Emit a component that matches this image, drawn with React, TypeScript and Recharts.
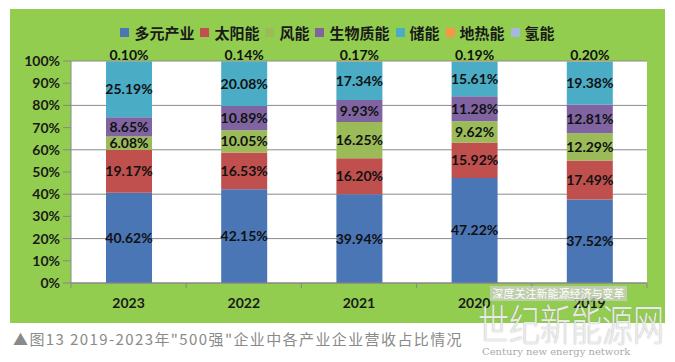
import { BarChart, Bar, XAxis, YAxis, CartesianGrid, LabelList } from 'recharts';

const years = ['2023', '2022', '2021', '2020', '2019'];
const diversified = [40.62, 42.15, 39.94, 47.22, 37.52];
const solar = [19.17, 16.53, 16.2, 15.92, 17.49];
const wind = [6.08, 10.05, 16.25, 9.62, 12.29];
const biomass = [8.65, 10.89, 9.93, 11.28, 12.81];
const storage = [25.19, 20.08, 17.34, 15.61, 19.38];
const geothermal = [0.1, 0.14, 0.17, 0.19, 0.2];
const hydrogen = [0, 0, 0, 0, 0];
const yTicks = [0, 0.1, 0.2, 0.3, 0.4, 0.5, 0.6, 0.7, 0.8, 0.9, 1];

const series = [
  { key: 'diversified', name: '多元产业', color: '#4A76B6', values: diversified },
  { key: 'solar', name: '太阳能', color: '#C0504D', values: solar },
  { key: 'wind', name: '风能', color: '#9BBB59', values: wind },
  { key: 'biomass', name: '生物质能', color: '#8064A2', values: biomass },
  { key: 'storage', name: '储能', color: '#4BACC6', values: storage },
  { key: 'geothermal', name: '地热能', color: '#F79646', values: geothermal },
  { key: 'hydrogen', name: '氢能', color: '#A5B8DD', values: hydrogen },
];

const data = years.map((year, i) => {
  const row: Record<string, string | number> = { year };
  series.forEach((s) => {
    row[s.key] = s.values[i];
  });
  return row;
});

const W = 655;
const H = 314;
const margin = { top: 52, right: 18, bottom: 10, left: 0 };
const yAxisW = 61;
const halfBand = (W - yAxisW - margin.right) / years.length / 2;

const numFont = 'Lato, "DejaVu Sans", sans-serif';
const cjkFont = '"Noto Sans CJK SC", sans-serif';

const pct = (v: any) => (v ? `${Number(v).toFixed(2)}%` : '');

function YearTick(props: any) {
  const { x, y, payload, index } = props;
  return (
    <g>
      <line x1={x - halfBand} x2={x - halfBand} y1={y} y2={y + 5} stroke="#888" />
      {index === years.length - 1 && (
        <line x1={x + halfBand} x2={x + halfBand} y1={y} y2={y + 5} stroke="#888" />
      )}
      <text
        x={x}
        y={y + 19}
        textAnchor="middle"
        dominantBaseline="central"
        fontFamily={numFont}
        fontWeight={700}
        fontSize={14}
        fill="#1a1a1a"
      >
        {payload.value}
      </text>
    </g>
  );
}

export default function App() {
  return (
    <div
      style={{
        position: 'absolute',
        left: 0,
        top: 0,
        width: 675,
        height: 362,
        background: '#fff',
        overflow: 'hidden',
      }}
    >
      <div
        style={{
          position: 'absolute',
          left: 10,
          top: 9,
          width: W,
          height: H,
          background: '#92CD4F',
        }}
      >
        <div
          style={{
            position: 'absolute',
            left: 0,
            top: 13,
            width: W,
            display: 'flex',
            justifyContent: 'center',
            alignItems: 'center',
            fontFamily: cjkFont,
            fontWeight: 700,
            fontSize: 15,
            color: '#1a1a1a',
          }}
        >
          {series.map((s, i) => (
            <div
              key={s.key}
              style={{ display: 'flex', alignItems: 'center', marginRight: i === series.length - 1 ? 0 : 6 }}
            >
              <span
                style={{ width: 9, height: 9, background: s.color, marginRight: 5, display: 'inline-block' }}
              />
              <span>{s.name}</span>
            </div>
          ))}
        </div>
        <BarChart width={W} height={H} data={data} margin={margin} stackOffset="expand" barSize={46}>
          <CartesianGrid vertical={false} stroke="#8a8a8a" fill="#fff" fillOpacity={1} />
          <XAxis
            dataKey="year"
            axisLine={{ stroke: '#888' }}
            tickLine={false}
            tickSize={0}
            tickMargin={0}
            height={30}
            tick={<YearTick />}
            interval={0}
          />
          <YAxis
            width={yAxisW}
            domain={[0, 1]}
            ticks={yTicks}
            tickFormatter={(v: number) => `${Math.round(v * 100)}%`}
            axisLine={{ stroke: '#888' }}
            tickLine={{ stroke: '#888' }}
            tickSize={8}
            tickMargin={3}
            tick={{ fontFamily: numFont, fontWeight: 700, fontSize: 14, fill: '#1a1a1a' }}
          />
          {series.map((s) => (
            <Bar key={s.key} dataKey={s.key} name={s.name} stackId="a" fill={s.color} isAnimationActive={false}>
              {s.key !== 'hydrogen' && (
                <LabelList
                  dataKey={s.key}
                  position={s.key === 'geothermal' ? 'top' : 'center'}
                  offset={1}
                  formatter={pct}
                  style={{ fontFamily: numFont, fontWeight: 700, fontSize: 14, fill: '#111' }}
                />
              )}
            </Bar>
          ))}
        </BarChart>
      </div>
      <div
        style={{
          position: 'absolute',
          left: 13,
          top: 328,
          fontFamily: cjkFont,
          fontSize: 15,
          letterSpacing: 1.4,
          color: '#8a8a8a',
          whiteSpace: 'nowrap',
        }}
      >
        ▲图13 2019-2023年"500强"企业中各产业企业营收占比情况
      </div>
      <div
        style={{
          position: 'absolute',
          left: 490,
          top: 286,
          width: 137,
          height: 15,
          background: 'rgba(205,205,205,0.75)',
          color: '#fff',
          fontFamily: cjkFont,
          fontSize: 11,
          lineHeight: '15px',
          textAlign: 'center',
          whiteSpace: 'nowrap',
          overflow: 'hidden',
        }}
      >
        深度关注新能源经济与变革
      </div>
      <div
        style={{
          position: 'absolute',
          left: 478,
          top: 300,
          fontFamily: cjkFont,
          fontWeight: 300,
          fontSize: 31,
          lineHeight: '32px',
          whiteSpace: 'nowrap',
          transform: 'scaleY(1.4)',
          transformOrigin: '0 0',
          color: 'rgba(255,255,255,0.8)',
          textShadow: '0 0 1px #999',
        }}
      >
        世纪新能源网
      </div>
      <div
        style={{
          position: 'absolute',
          left: 482,
          top: 346,
          fontFamily: '"DejaVu Serif", serif',
          fontSize: 10,
          color: '#aaa',
          whiteSpace: 'nowrap',
        }}
      >
        Century new energy network
      </div>
    </div>
  );
}
